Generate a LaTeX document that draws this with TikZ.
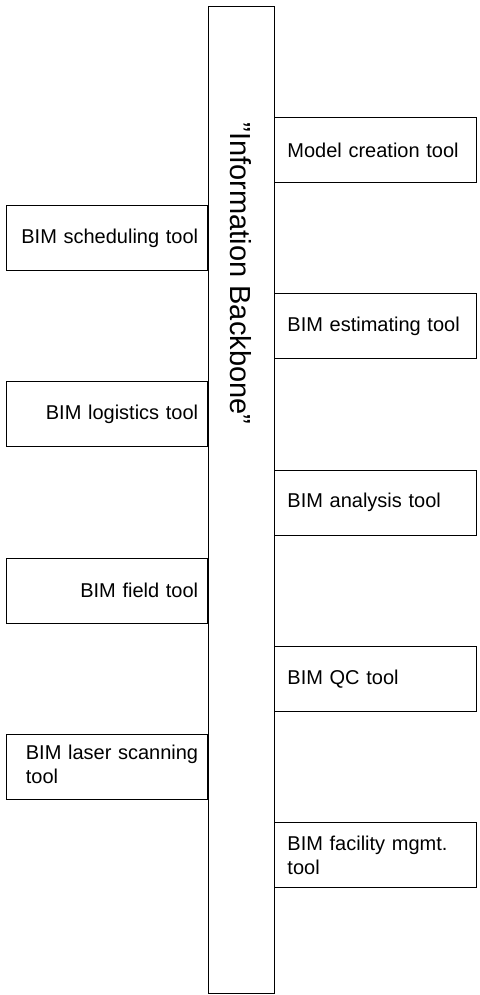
\documentclass[tikz,border=0pt]{standalone}
\usepackage{fontspec}
\setmainfont{Liberation Sans}
\usetikzlibrary{positioning}

\begin{document}
\begin{tikzpicture}[x=1pt,y=-1pt,
  toolbox/.style={draw=black, line width=0.9pt, rectangle, minimum height=65pt,
    font=\fontsize{20}{24}\selectfont},
  toolright/.style={toolbox, text width=176pt, inner xsep=12.7pt, align=left, anchor=west},
  toolleft/.style={toolbox, text width=182pt, inner xsep=9.7pt, align=right, anchor=east}]
\useasboundingbox (0,0) rectangle (479,995);
\node[draw=black, line width=0.9pt, minimum width=66pt, minimum height=986.6pt, inner sep=0pt] (backbone) at (241.3,500) {};
\node[rotate=-90, font=\fontsize{29}{34}\selectfont] (bbtitle) at (241.3,273.5) {''Information Backbone''};
% tools on the right
\node[toolright] (model) at (274.3,150) {Model creation tool};
\node[toolright] (estimate) at (274.3,326.2) {BIM estimating tool};
\node[toolright] (analysis) at (274.3,502.7) {BIM analysis tool};
\node[toolright] (qc) at (274.3,679) {BIM QC tool};
\node[toolright] (facility) at (274.3,855.2) {BIM facility mgmt.\\tool};
% tools on the left
\node[toolleft] (schedule) at (208.3,238.2) {BIM scheduling tool};
\node[toolleft] (logistics) at (208.3,414.3) {BIM logistics tool};
\node[toolleft] (field) at (208.3,590.5) {BIM field tool};
\node[toolleft] (laser) at (208.3,766.8) {\begin{tabular}{@{}l@{}}BIM laser scanning\\tool\end{tabular}};
\end{tikzpicture}
\end{document}
